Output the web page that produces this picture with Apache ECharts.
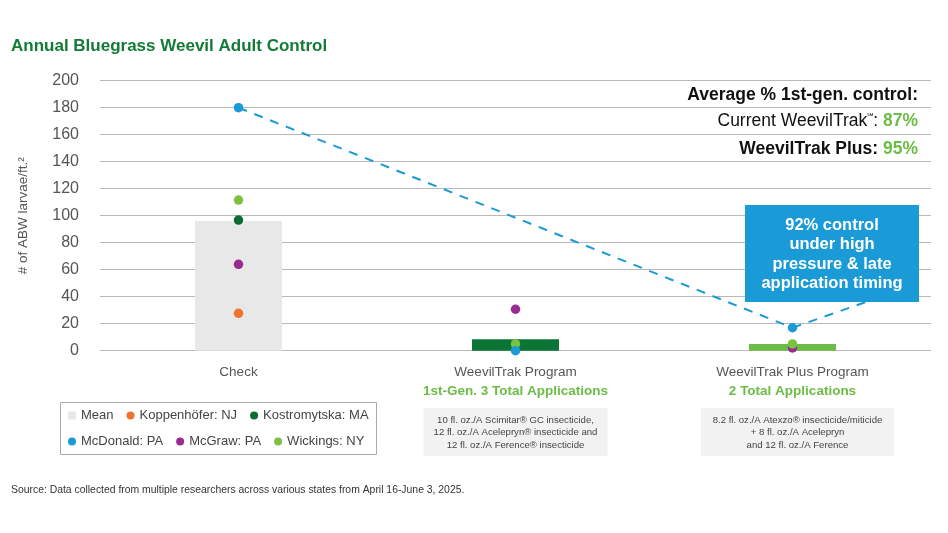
<!DOCTYPE html>
<html><head><meta charset="utf-8">
<script src="https://cdn.jsdelivr.net/npm/echarts@6/dist/echarts.min.js"></script>
<style>html,body{margin:0;padding:0;background:#fff}#c{width:948px;height:533px}</style>
</head><body><div id="c"></div>
<script>
// ---- data ----
const categories = ['Check', 'WeevilTrak Program', 'WeevilTrak Plus Program'];
const subLabels = ['', '1st-Gen. 3 Total Applications', '2 Total Applications'];
const meanValues = [96, 8.4, 5];
const meanColors = ['#e8e8e8', '#0a7535', '#6cbd45'];
const koppenhofer = [27.7, null, null];
const kostromytska = [96.8, null, null];
const mcdonald = [180, 0, 17];
const mcgraw = [64, 30.7, 2];
const wickings = [111.6, 5, 5];
const mcdonaldTrend = [180, null, 17];
const yMin = 0, yMax = 200, yInterval = 20;
const appText = [
  '',
  '10 fl. oz./A Scimitar® GC insecticide,\n12 fl. oz./A Acelepryn® insecticide and\n12 fl. oz./A Ference® insecticide',
  '8.2 fl. oz./A Atexzo® insecticide/miticide\n+ 8 fl. oz./A Acelepryn\nand 12 fl. oz./A Ference'
];

const FONT = "'Liberation Sans', Arial, Helvetica, sans-serif";
const C = {orange:'#f07330', dkgreen:'#0b6b30', blue:'#1a9ad6', purple:'#9a2b91', ltgreen:'#7cc242'};

const chart = echarts.init(document.getElementById('c'));

function dot(name, data, color) {
  return {
    name, type: 'scatter', data, symbol: 'circle', symbolSize: 9.5, z: 5,
    itemStyle: {color, opacity: 1}
  };
}

const legendCommon = {
  left: 68, itemWidth: 8, itemHeight: 8, itemGap: 13, padding: 0,
  itemStyle: {borderWidth: 0},
  textStyle: {fontFamily: FONT, fontSize: 13, color: '#444'}
};

chart.setOption({
  animation: false,
  textStyle: {fontFamily: FONT},
  title: {
    text: 'Annual Bluegrass Weevil Adult Control', left: 11, top: 38, padding: 0,
    textStyle: {fontFamily: FONT, fontSize: 17, fontWeight: 'bold', color: '#137b36'}
  },
  grid: {left: 100, right: 17, top: 80.7, bottom: 182.3},
  legend: [
    Object.assign({}, legendCommon, {
      data: [{name: 'Mean', icon: 'rect'}, 'Koppenhöfer: NJ', 'Kostromytska: MA'], top: 409
    }),
    Object.assign({}, legendCommon, {
      data: ['McDonald: PA', 'McGraw: PA', 'Wickings: NY'], top: 435
    })
  ],
  xAxis: {
    type: 'category', data: categories,
    axisLine: {show: false}, axisTick: {show: false},
    axisLabel: {
      margin: 12,
      formatter: (v, i) => subLabels[i] ? `{a|${v}}\n{b|${subLabels[i]}}` : `{a|${v}}`,
      rich: {
        a: {fontFamily: FONT, fontSize: 13.5, color: '#555', lineHeight: 19},
        b: {fontFamily: FONT, fontSize: 13.5, fontWeight: 'bold', color: '#6cbd45', lineHeight: 19}
      }
    }
  },
  yAxis: {
    type: 'value', min: yMin, max: yMax, interval: yInterval,
    name: '# of ABW larvae/ft.²', nameLocation: 'middle', nameGap: 70,
    nameTextStyle: {fontFamily: FONT, fontSize: 13.5, color: '#555'},
    axisLabel: {fontFamily: FONT, fontSize: 16, color: '#555', margin: 21},
    splitLine: {lineStyle: {color: '#b8b8b8', width: 1.2}},
    axisLine: {show: false}, axisTick: {show: false}
  },
  series: [
    {
      name: 'Mean', type: 'bar', barWidth: 87, z: 2,
      itemStyle: {color: meanColors[0]},
      data: meanValues.map((v, i) => ({value: v, itemStyle: {color: meanColors[i]}}))
    },
    {
      name: 'trend', type: 'line', data: mcdonaldTrend, connectNulls: true,
      symbol: 'none', z: 3, lineStyle: {color: C.blue, width: 2, type: [9, 8]}
    },
    dot('Koppenhöfer: NJ', koppenhofer, C.orange),
    dot('Kostromytska: MA', kostromytska, C.dkgreen),
    dot('McGraw: PA', mcgraw, C.purple),
    dot('Wickings: NY', wickings, C.ltgreen),
    dot('McDonald: PA', mcdonald, C.blue)
  ]
});

// ---- annotations ----
const xs = categories.map((c, i) => chart.convertToPixel({xAxisIndex: 0}, i));
const plusPt = chart.convertToPixel({seriesIndex: 1}, [2, mcdonaldTrend[2]]);
const box = {x: 745, y: 205, w: 174, h: 97};
const graphics = [];

// callout pointer
graphics.push({
  type: 'line', z: 4,
  shape: {x1: plusPt[0], y1: plusPt[1], x2: 866, y2: box.y + box.h},
  style: {stroke: C.blue, lineWidth: 2, lineDash: [9, 8]}
});
graphics.push({
  type: 'rect', z: 6, shape: {x: box.x, y: box.y, width: box.w, height: box.h},
  style: {fill: '#1a9ad6'}
});
graphics.push({
  type: 'text', z: 7, x: box.x + box.w / 2, y: box.y + box.h / 2 + 1,
  style: {
    text: '92% control\nunder high\npressure & late\napplication timing',
    fill: '#fff', font: `bold 16.5px ${FONT}`, align: 'center', verticalAlign: 'middle', lineHeight: 19.5
  }
});

// top-right summary
const TR = 17.5;
graphics.push({
  type: 'text', z: 7, x: 918, y: 95,
  style: {text: 'Average % 1st-gen. control:', fill: '#111', font: `bold ${TR}px ${FONT}`, align: 'right', verticalAlign: 'middle'}
});
graphics.push({
  type: 'text', z: 7, x: 918, y: 121.5,
  style: {
    text: '{r|Current WeevilTrak}{s|℠}{r|: }{g|87%}', align: 'right', verticalAlign: 'middle',
    rich: {
      r: {fontFamily: FONT, fontSize: TR, fill: '#111'},
      s: {fontFamily: FONT, fontSize: 8, fill: '#111', verticalAlign: 'top', lineHeight: 16},
      g: {fontFamily: FONT, fontSize: TR, fontWeight: 'bold', fill: '#6cbd45'}
    }
  }
});
graphics.push({
  type: 'text', z: 7, x: 918, y: 149,
  style: {
    text: '{r|WeevilTrak Plus: }{g|95%}', align: 'right', verticalAlign: 'middle',
    rich: {
      r: {fontFamily: FONT, fontSize: TR, fontWeight: 'bold', fill: '#111'},
      g: {fontFamily: FONT, fontSize: TR, fontWeight: 'bold', fill: '#6cbd45'}
    }
  }
});

// application boxes
const appW = [0, 184, 193];
const appDx = [0, 0, 5];
for (let i = 1; i < categories.length; i++) {
  const cx = xs[i] + appDx[i];
  graphics.push({
    type: 'rect', shape: {x: cx - appW[i] / 2, y: 408, width: appW[i], height: 48},
    style: {fill: '#f2f2f2'}
  });
  graphics.push({
    type: 'text', x: cx, y: 432.5,
    style: {text: appText[i], fill: '#444', font: `9.6px ${FONT}`, align: 'center', verticalAlign: 'middle', lineHeight: 12.4}
  });
}

// legend border
graphics.push({
  type: 'rect', shape: {x: 60.5, y: 402.5, width: 316, height: 52},
  style: {fill: 'none', stroke: '#aaa', lineWidth: 1}
});

// source
graphics.push({
  type: 'text', x: 11, y: 490,
  style: {text: 'Source: Data collected from multiple researchers across various states from April 16-June 3, 2025.',
    fill: '#333', font: `10.4px ${FONT}`, verticalAlign: 'middle'}
});

chart.setOption({graphic: graphics});
</script>
</body></html>
